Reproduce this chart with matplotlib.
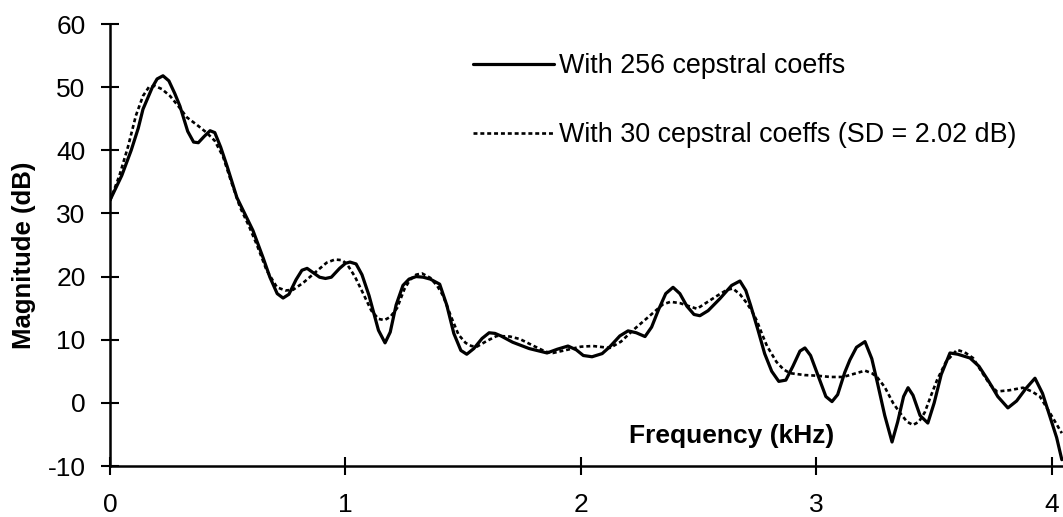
import numpy as np
import matplotlib
matplotlib.use("Agg")
import matplotlib.pyplot as plt

plt.rcParams['font.family'] = ['Liberation Sans', 'DejaVu Sans']
plt.rcParams['axes.unicode_minus'] = False

# spectral envelope, 256 cepstral coefficients (kHz, dB)
freq_256 = [0.0, 0.05, 0.09, 0.12, 0.14, 0.18, 0.20, 0.225, 0.25, 0.275, 0.297,
            0.33, 0.355, 0.375, 0.40, 0.425, 0.445, 0.47, 0.497, 0.539, 0.607,
            0.65, 0.679, 0.71, 0.735, 0.76, 0.79, 0.815, 0.837, 0.86, 0.89,
            0.915, 0.94, 0.975, 1.0, 1.019, 1.045, 1.07, 1.10, 1.14, 1.168,
            1.19, 1.215, 1.244, 1.27, 1.30, 1.33, 1.36, 1.39, 1.40, 1.43,
            1.46, 1.49, 1.515, 1.545, 1.58, 1.61, 1.635, 1.66, 1.71, 1.78,
            1.856, 1.90, 1.945, 1.98, 2.01, 2.047, 2.09, 2.123, 2.165, 2.2,
            2.235, 2.272, 2.30, 2.33, 2.36, 2.391, 2.42, 2.45, 2.48, 2.505,
            2.54, 2.59, 2.64, 2.675, 2.70, 2.72, 2.752, 2.78, 2.81, 2.84,
            2.87, 2.90, 2.93, 2.951, 2.975, 3.01, 3.04, 3.066, 3.09, 3.12,
            3.142, 3.17, 3.206, 3.235, 3.26, 3.29, 3.321, 3.345, 3.37, 3.389,
            3.41, 3.44, 3.473, 3.50, 3.53, 3.567, 3.60, 3.652, 3.69, 3.73,
            3.77, 3.813, 3.85, 3.89, 3.928, 3.96, 3.99, 4.02, 4.042]
mag_256 = [32.1, 36.0, 40.0, 43.5, 46.5, 50.0, 51.3, 51.8, 51.0, 49.0, 47.0,
           43.0, 41.3, 41.2, 42.2, 43.1, 42.8, 40.5, 37.5, 32.5, 27.3,
           23.0, 19.9, 17.3, 16.6, 17.2, 19.5, 21.0, 21.3, 20.7, 19.9,
           19.7, 19.9, 21.3, 22.1, 22.3, 22.0, 20.3, 17.0, 11.5, 9.5,
           11.2, 15.5, 18.6, 19.6, 20.0, 19.9, 19.6, 19.0, 18.8, 15.5,
           11.0, 8.3, 7.7, 8.6, 10.2, 11.1, 11.0, 10.6, 9.6, 8.6,
           7.9, 8.5, 9.0, 8.4, 7.5, 7.3, 7.8, 8.9, 10.6, 11.4,
           11.1, 10.5, 12.0, 14.8, 17.3, 18.3, 17.3, 15.3, 14.0, 13.8,
           14.6, 16.5, 18.6, 19.3, 17.8, 15.5, 11.5, 7.8, 5.0, 3.4,
           3.6, 5.8, 8.2, 8.7, 7.5, 4.0, 1.0, 0.2, 1.3, 4.8,
           6.8, 8.8, 9.7, 7.0, 3.0, -2.0, -6.2, -3.0, 1.0, 2.4,
           1.2, -2.0, -3.2, 0.0, 4.5, 7.9, 7.7, 7.1, 5.8, 3.5,
           1.0, -0.8, 0.3, 2.3, 3.9, 1.5, -2.0, -5.5, -9.0]

# smoothed envelope, 30 cepstral coefficients
freq_30 = [0.0, 0.04, 0.076, 0.11, 0.14, 0.165, 0.19, 0.22, 0.255, 0.29, 0.327,
           0.37, 0.41, 0.445, 0.48, 0.515, 0.552, 0.59, 0.624, 0.665, 0.709,
           0.745, 0.777, 0.82, 0.879, 0.92, 0.955, 0.985, 1.006, 1.04, 1.074,
           1.11, 1.14, 1.165, 1.19, 1.219, 1.25, 1.274, 1.30, 1.325, 1.36,
           1.39, 1.414, 1.45, 1.48, 1.51, 1.535, 1.558, 1.6, 1.643, 1.699,
           1.741, 1.80, 1.85, 1.881, 1.941, 2.0, 2.051, 2.123, 2.17, 2.221,
           2.28, 2.348, 2.38, 2.42, 2.46, 2.493, 2.53, 2.58, 2.62, 2.645,
           2.675, 2.70, 2.725, 2.747, 2.77, 2.79, 2.83, 2.86, 2.888, 2.95,
           3.002, 3.06, 3.113, 3.16, 3.206, 3.235, 3.257, 3.29, 3.325, 3.355,
           3.385, 3.41, 3.435, 3.46, 3.49, 3.512, 3.55, 3.597, 3.63, 3.665,
           3.70, 3.735, 3.766, 3.82, 3.877, 3.915, 3.949, 3.99, 4.042]
mag_30 = [32.0, 36.0, 40.5, 45.5, 48.6, 50.0, 50.2, 49.7, 48.6, 47.0, 45.2,
          44.0, 42.8, 41.5, 39.0, 35.0, 31.0, 28.0, 25.0, 21.0, 18.3,
          17.8, 17.9, 19.0, 20.9, 22.2, 22.7, 22.6, 22.0, 20.0, 17.4,
          14.6, 13.3, 13.1, 13.6, 15.0, 18.0, 19.5, 20.3, 20.5, 19.8,
          18.5, 17.0, 13.5, 10.8, 9.5, 9.0, 8.9, 9.8, 10.6, 10.5,
          10.1, 9.0, 8.1, 7.9, 8.4, 8.9, 9.0, 8.7, 9.7, 11.5,
          13.4, 15.6, 16.0, 15.8, 15.3, 14.9, 15.8, 17.0, 17.9, 18.1,
          17.2, 16.0, 14.6, 13.0, 10.8, 9.0, 6.5, 5.3, 4.7, 4.4,
          4.3, 4.1, 4.1, 4.6, 5.1, 4.7, 4.1, 2.5, 0.0, -1.6,
          -3.0, -3.5, -3.0, -1.5, 1.5, 3.6, 6.5, 8.4, 8.0, 7.1,
          5.0, 3.0, 1.8, 2.0, 2.4, 1.8, 1.0, -1.5, -4.8]

xticks = [0, 1, 2, 3, 4]
yticks = [-10, 0, 10, 20, 30, 40, 50, 60]
fsz = 19

W, H = 1063, 517
fig = plt.figure(figsize=(W / 100, H / 100), dpi=100)
ax = fig.add_axes([110 / W, 51 / H, 953 / W, 442 / H])

ax.plot(freq_256, mag_256, color='black', lw=2.3, solid_joinstyle='round',
        solid_capstyle='round', label='With 256 cepstral coeffs')
ax.plot(freq_30, mag_30, color='black', lw=1.9, linestyle=(0, (1.5, 1.1)),
        label='With 30 cepstral coeffs (SD = 2.02 dB)')

ax.set_xlim(0, 4.047)
ax.set_ylim(-10, 60)
ax.set_xticks(xticks)
ax.set_yticks(yticks)
for s in ['top', 'right']:
    ax.spines[s].set_visible(False)
for s in ['left', 'bottom']:
    ax.spines[s].set_linewidth(1.8)
    ax.spines[s].set_clip_on(False)
ax.tick_params(direction='inout', length=13, width=1.5, labelsize=fsz)
ax.tick_params(axis='x', pad=13)
ax.tick_params(axis='y', pad=11)

ax.set_ylabel('Magnitude (dB)', fontsize=18.5, fontweight='bold')
ax.yaxis.set_label_coords(-0.078, 0.477)
ax.text(2.64, -5.2, 'Frequency (kHz)', fontsize=19, fontweight='bold',
        ha='center', va='center')

ax.legend(loc='upper left', bbox_to_anchor=(473 / W, 1 - 53 / H),
          bbox_transform=fig.transFigure, frameon=False, fontsize=19.4,
          handlelength=3.0, handletextpad=0.2, labelspacing=1.6,
          borderpad=0, borderaxespad=0)

fig.savefig('out.png', dpi=100)
